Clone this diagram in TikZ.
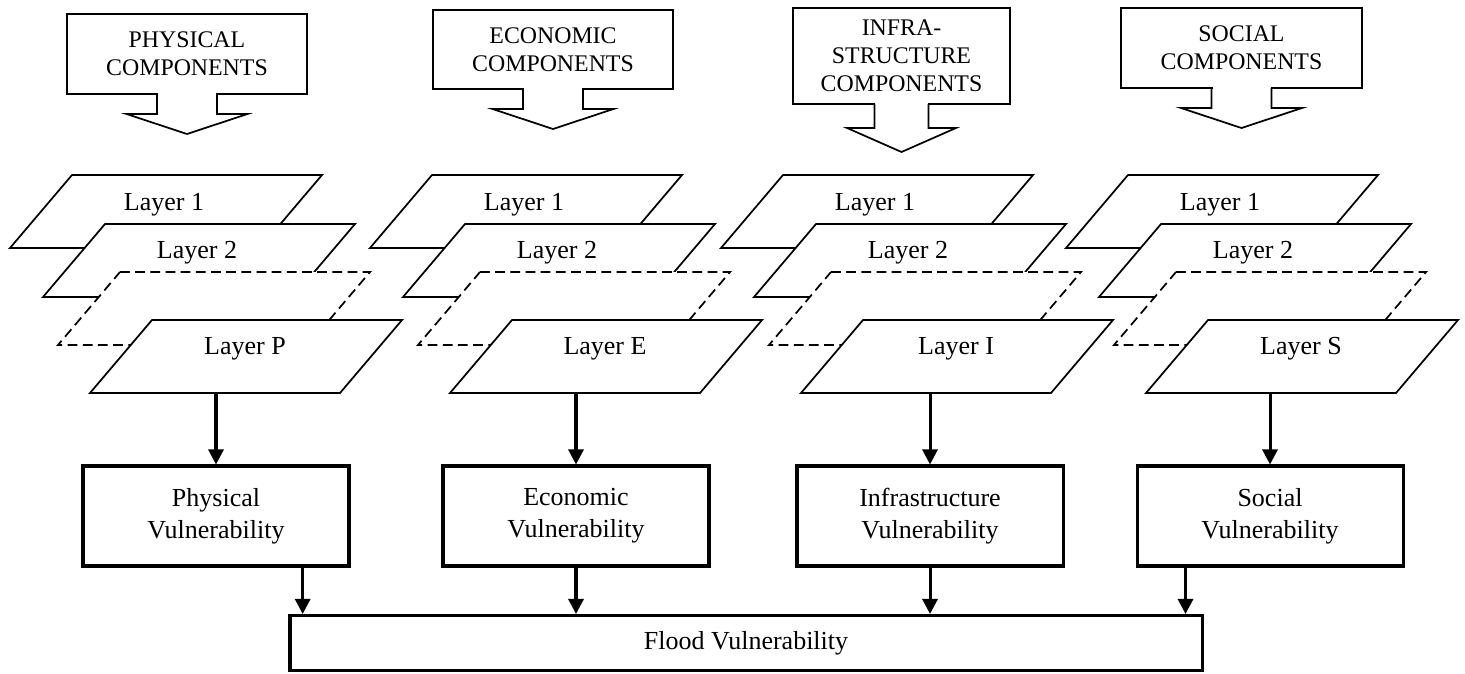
\documentclass[tikz,border=0pt]{standalone}
\usepackage{fontspec}
\setmainfont{Liberation Serif}
\usetikzlibrary{arrows.meta}
\newcommand{\pxu}{0.4615pt}
\tikzset{
  comp/.style={draw,thick,fill=white,align=center,inner sep=0pt,outer sep=0pt,
    font=\fontsize{11}{13}\selectfont},
  layer/.style={draw,thick,fill=white},
  lbl/.style={font=\fontsize{12}{14.5}\selectfont},
  vbox/.style={draw,line width=1.4pt,align=center,minimum width=266*\pxu,
    minimum height=100*\pxu,font=\fontsize{12}{14.8}\selectfont},
  arr/.style={line width=1.4pt,-{Triangle[length=7pt,width=7pt]}}
}
\begin{document}
\begin{tikzpicture}[x=\pxu,y=-\pxu]
    \useasboundingbox (0,0) rectangle (1465,673);
    % component boxes and their arrows
    \foreach \n/\x/\y/\w/\h/\sx/\sy/\txt in {P/187/54/240/80/1/1/{PHYSICAL\\COMPONENTS},
        E/553/49.5/240/79/1/1/{ECONOMIC\\COMPONENTS},
        I/901.5/56/217/96/0.9/1.2/{INFRA-\\STRUCTURE\\COMPONENTS},
        S/1241.5/48/241/80/1/1/{SOCIAL\\COMPONENTS}}
    {
      \node[comp,minimum width=\w*\pxu,minimum height=\h*\pxu] (c\n) at (\x,\y) {\txt};
      \fill[white] (c\n.south) ++(-29*\sx,-2) rectangle ++(58*\sx,3);
      \draw[thick] (c\n.south) ++(-30*\sx,0) -- ++(0,20*\sy) -- ++(-30.5*\sx,0)
        -- ++(60.5*\sx,20*\sy) -- ++(60.5*\sx,-20*\sy) -- ++(-30.5*\sx,0) -- ++(0,-20*\sy);
    }
    % stacked layers
    \foreach \n/\x in {P/72,E/432,I/783,S/1128}
    {
      \begin{scope}[shift={(\x,175)}]
        \draw[layer] (0,0) -- (250,0) -- (188,73) -- (-62,73) -- cycle;
        \node[lbl] (a\n) at (92,30) {Layer 1};
        \draw[layer] (33,49) -- (283,49) -- (221,122) -- (-29,122) -- cycle;
        \node[lbl] (b\n) at (125,78) {Layer 2};
        \draw[layer,dash pattern=on 4.5pt off 2.5pt] (48,97) -- (298,97) -- (236,170) -- (-14,170) -- cycle;
        \draw[layer] (80,145) -- (330,145) -- (268,218) -- (18,218) -- cycle;
        \node[lbl] (l\n) at (173,173.5) {Layer \n};
        \coordinate (e\n) at (144,218);
      \end{scope}
    }
    % vulnerability boxes
    \node[vbox] (vP) at (216,516) {Physical\\Vulnerability};
    \node[vbox] (vE) at (576,516) {Economic\\Vulnerability};
    \node[vbox] (vI) at (930,516) {Infrastructure\\Vulnerability};
    \node[vbox] (vS) at (1270,516) {Social\\Vulnerability};
    \node[vbox,minimum width=912*\pxu,minimum height=55*\pxu] (fv) at (746,643) {Flood Vulnerability};
    \foreach \n in {P,E,I,S} \draw[arr] (v\n.north |- e\n) -- (v\n.north);
    \draw[arr] ([xshift=40pt]vP.south) -- ([xshift=40pt]vP.south |- fv.north);
    \foreach \n in {E,I} \draw[arr] (v\n.south) -- (v\n.south |- fv.north);
    \draw[arr] ([xshift=-39pt]vS.south) -- ([xshift=-39pt]vS.south |- fv.north);
\end{tikzpicture}
\end{document}
